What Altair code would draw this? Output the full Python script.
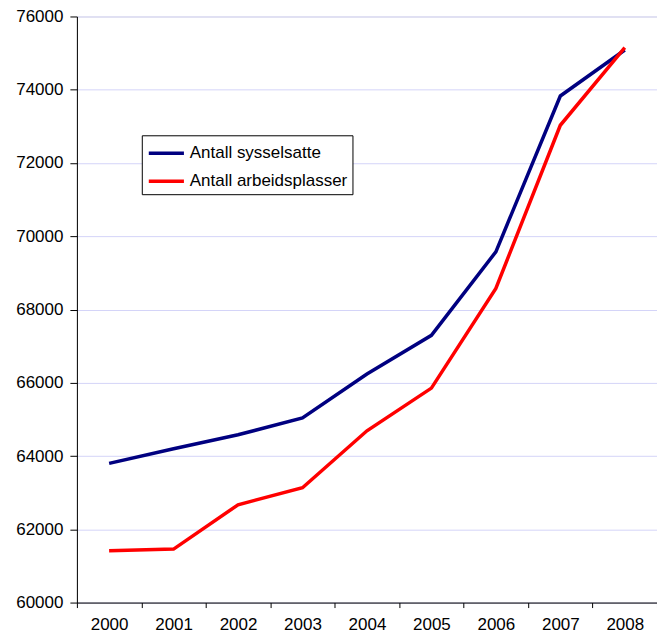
import altair as alt
import pandas as pd

years = ["2000", "2001", "2002", "2003", "2004", "2005", "2006", "2007", "2008"]
sysselsatte = [63800, 64200, 64580, 65040, 66240, 67295, 69575, 73830, 75085]
arbeidsplasser = [61415, 61460, 62670, 63135, 64690, 65855, 68575, 73030, 75150]
series_names = ["Antall sysselsatte", "Antall arbeidsplasser"]
colors = ["#000080", "#ff0000"]

rows = []
for y, a, b in zip(years, sysselsatte, arbeidsplasser):
    rows.append({"year": y, "series": series_names[0], "value": a})
    rows.append({"year": y, "series": series_names[1], "value": b})
df = pd.DataFrame(rows)

FONT = "Liberation Sans"
FS = 17

chart = alt.Chart(df).mark_line(strokeWidth=3.5).encode(
    x=alt.X("year:O", scale=alt.Scale(type="band", paddingInner=0, paddingOuter=0),
            axis=alt.Axis(title=None, labelAngle=0, tickBand="extent", tickSize=5,
                          labelPadding=9, labelFontSize=FS, labelFont=FONT,
                          labelColor="black", domainColor="black", tickColor="black",
                          grid=False)),
    y=alt.Y("value:Q", scale=alt.Scale(domain=[60000, 76000], nice=False, zero=False),
            axis=alt.Axis(title=None, values=list(range(60000, 76001, 2000)), format="d",
                          tickSize=7, labelPadding=7, labelFontSize=FS, labelFont=FONT,
                          labelColor="black", domainColor="black", tickColor="black",
                          gridColor="#d4d4f8", gridWidth=1)),
    color=alt.Color("series:N",
                    scale=alt.Scale(domain=series_names, range=colors),
                    sort=series_names,
                    legend=alt.Legend(title=None, orient="none", legendX=65, legendY=119,
                                      symbolType="M-1,0H2.2", symbolSize=484,
                                      symbolStrokeWidth=3.5, labelFontSize=FS,
                                      labelFont=FONT, labelColor="black",
                                      strokeColor="black", fillColor="white",
                                      padding=5, rowPadding=7, labelOffset=17)),
    order=alt.Order("year:O"),
).properties(
    width=581, height=587,
    autosize=alt.AutoSizeParams(type="none"),
    padding={"left": 69, "top": 8, "right": 0, "bottom": 34},
).configure_view(stroke="#888888", strokeWidth=1).configure(background="white")

chart.save("out.html", embed_options={"renderer": "svg", "actions": False})
